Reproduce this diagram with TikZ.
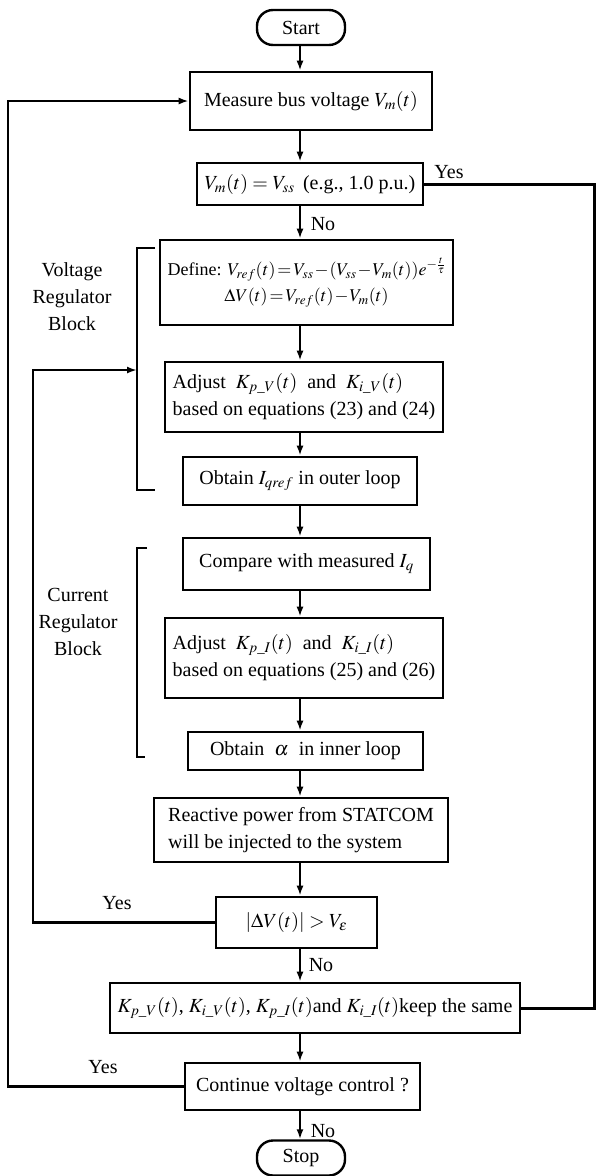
\documentclass[tikz,border=0pt]{standalone}
\usepackage{amsmath,amssymb}
\usepackage{mathptmx}
\usepackage{fontspec}
\setmainfont{Liberation Serif}
\usepackage{tikz}
\usetikzlibrary{arrows.meta}

\begin{document}
\begin{tikzpicture}[x=1pt, y=-1pt, >={Latex[length=10pt,width=7pt]}, font=\fontsize{20}{27}\selectfont,
        box/.style={draw, line width=2.6pt, align=center, inner sep=2pt},
        term/.style={draw, line width=2.4pt, rounded corners=16pt, minimum width=88pt, minimum height=35pt},
        line/.style={line width=2.4pt},
        flow/.style={line width=2.4pt, ->}]
    \useasboundingbox (0,0) rectangle (596,1176);
    \coordinate (spine) at (300,0);
    \coordinate (rx) at (594,0);
    \coordinate (lx1) at (8,0);
    \coordinate (lx2) at (33,0);
    \coordinate (vtip) at (137,370);

    \node[term] (start) at (301,27.5) {Start};
    \node[box, minimum width=242pt, minimum height=58pt] (measure) at (311,101) {Measure bus voltage $V_m(t)$};
    \node[box, minimum width=226pt, minimum height=42pt] (check) at (310,184) {$V_m(t)=V_{ss}$\ \,(e.g., 1.0 p.u.)};
    \node[box, minimum width=293pt, minimum height=85pt, font=\fontsize{18}{26}\selectfont] (define) at (306.5,282.5)
        {\thickmuskip=2mu \medmuskip=1mu Define: $V_{ref}(t)=V_{ss}-(V_{ss}-V_m(t))e^{-\frac{t}{\tau}}$\\
         \thickmuskip=2mu \medmuskip=1mu $\Delta V(t)=V_{ref}(t)-V_m(t)$};
    \node[box, align=left, minimum width=278pt, minimum height=70pt] (adjv) at (304,397)
        {Adjust \ $K_{p\_V}(t)$ \ and \ $K_{i\_V}(t)$\\based on equations (23) and (24)};
    \node[box, minimum width=234pt, minimum height=48pt] (obtI) at (300,481) {Obtain $I_{qref}$ in outer loop};
    \node[box, minimum width=247pt, minimum height=52pt] (comp) at (306.5,564) {Compare with measured $I_q$};
    \node[box, align=left, minimum width=278pt, minimum height=80pt] (adji) at (304,658)
        {Adjust \ $K_{p\_I}(t)$ \ and \ $K_{i\_I}(t)$\\based on equations (25) and (26)};
    \node[box, minimum width=235pt, minimum height=38pt] (obta) at (305.5,751) {Obtain \ $\alpha$ \ in inner loop};
    \node[box, align=left, minimum width=294pt, minimum height=64pt] (react) at (301,830)
        {Reactive power from STATCOM\\will be injected to the system};
    \node[box, minimum width=161pt, minimum height=51pt] (dv) at (296.5,922.5) {$\left|\Delta V(t)\right|>V_\varepsilon$};
    \node[box, minimum width=410pt, minimum height=50pt] (keep) at (315,1008)
        {$K_{p\_V}(t)$, $K_{i\_V}(t)$, $K_{p\_I}(t)$and $K_{i\_I}(t)$keep the same};
    \node[box, minimum width=235pt, minimum height=47pt] (cont) at (302.5,1086.5) {Continue voltage control ?};
    \node[term] (stop) at (301,1158) {Stop};

    \draw[flow] (start.south -| spine) -- (measure.north -| spine);
    \draw[flow] (measure.south -| spine) -- (check.north -| spine);
    \draw[flow] (check.south -| spine) -- (define.north -| spine);
    \draw[flow] (define.south -| spine) -- (adjv.north -| spine);
    \draw[flow] (adjv.south -| spine) -- (obtI.north -| spine);
    \draw[flow] (obtI.south -| spine) -- (comp.north -| spine);
    \draw[flow] (comp.south -| spine) -- (adji.north -| spine);
    \draw[flow] (adji.south -| spine) -- (obta.north -| spine);
    \draw[flow] (obta.south -| spine) -- (react.north -| spine);
    \draw[flow] (react.south -| spine) -- (dv.north -| spine);
    \draw[flow] (dv.south -| spine) -- (keep.north -| spine);
    \draw[flow] (keep.south -| spine) -- (cont.north -| spine);
    \draw[flow] (cont.south -| spine) -- (stop.north -| spine);

    \draw[line, line width=3pt] (check.east) -- (check.east -| rx) |- (keep.east);
    \draw[flow] (cont.west) -- (cont.west -| lx1) |- (measure.west);
    \draw[flow] (dv.west) -- (dv.west -| lx2) |- (vtip);

    \draw[line] (155,248) -- (137,248) -- (137,490) -- (155,490);
    \draw[line] (147,548) -- (137,548) -- (137,757) -- (145,757);

    \node (yes1) at (449,172) {Yes};
    \node (no1) at (323,224) {No};
    \node (yes2) at (117,903) {Yes};
    \node (no2) at (321,965) {No};
    \node (yes3) at (103,1067) {Yes};
    \node (no3) at (323,1131) {No};
    \node[align=center] (vrb) at (72,297) {Voltage\\Regulator\\Block};
    \node[align=center] (crb) at (78,622) {Current\\Regulator\\Block};
\end{tikzpicture}
\end{document}
